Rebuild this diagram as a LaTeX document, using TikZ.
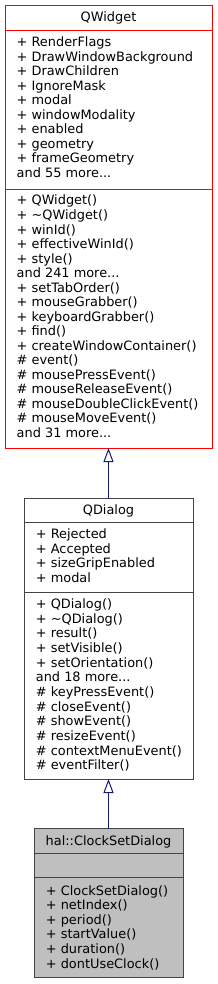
\documentclass[tikz,border=0pt]{standalone}
\usepackage{fontspec}
\setmainfont{DejaVu Sans}
\usetikzlibrary{arrows.meta}
\definecolor{edgeblue}{HTML}{191970}
\definecolor{boxgray}{HTML}{444444}
\definecolor{boxred}{HTML}{FF0000}
\definecolor{fillgray}{HTML}{BFBFBF}
\newcommand{\mymore}{...}
\tikzset{
  umlbox/.style={draw, rectangle, inner sep=0pt, outer sep=0pt, line width=1pt, anchor=north west},
  divider/.style={line width=1pt},
  txt/.style={anchor=base west, inner sep=0pt, font=\fontsize{12.9}{14.5}\selectfont},
  ttl/.style={anchor=base, inner sep=0pt, font=\fontsize{12.9}{14.5}\selectfont},
  inherit/.style={draw=edgeblue, line width=1pt, -{Triangle[open, width=10pt, length=14pt]}}
}
\begin{document}
\begin{tikzpicture}[x=1pt, y=-1pt]
\useasboundingbox (0,0) rectangle (217,984);
% QWidget
\node[umlbox, draw=boxred, fill=white, minimum width=207pt, minimum height=442pt] (qw) at (5,6) {};
\coordinate (qwd1l) at (5,31); \coordinate (qwd1r) at (212,31);
\coordinate (qwd2l) at (5,190); \coordinate (qwd2r) at (212,190);
\draw[divider, boxred] (qwd1l) -- (qwd1r);
\draw[divider, boxred] (qwd2l) -- (qwd2r);
\node[ttl] (qwt) at (108.5,22) {QWidget};
\foreach \t [count=\i from 0] in {+ RenderFlags, + DrawWindowBackground, + DrawChildren, + IgnoreMask, + modal, + windowModality, + enabled, + geometry, + frameGeometry, and 55 more\mymore}
  \node[txt] (qwa\i) at (16.5,46.7+14.5*\i) {\t};
\foreach \t [count=\i from 0] in {+ QWidget(), + \textasciitilde QWidget(), + winId(), + effectiveWinId(), + style(), and 241 more\mymore, + setTabOrder(), + mouseGrabber(), + keyboardGrabber(), + find(), + createWindowContainer(), \# event(), \# mousePressEvent(), \# mouseReleaseEvent(), \# mouseDoubleClickEvent(), \# mouseMoveEvent(), and 31 more\mymore}
  \node[txt] (qwo\i) at (16.5,205+14.5*\i) {\t};
% QDialog
\node[umlbox, draw=boxgray, fill=white, minimum width=169pt, minimum height=280.5pt] (qd) at (24,498.5) {};
\coordinate (qdd1l) at (24,522.7); \coordinate (qdd1r) at (193,522.7);
\coordinate (qdd2l) at (24,592.7); \coordinate (qdd2r) at (193,592.7);
\draw[divider, boxgray] (qdd1l) -- (qdd1r);
\draw[divider, boxgray] (qdd2l) -- (qdd2r);
\node[ttl] (qdt) at (108.5,514.5) {QDialog};
\foreach \t [count=\i from 0] in {+ Rejected, + Accepted, + sizeGripEnabled, + modal}
  \node[txt] (qda\i) at (35.7,538.5+14.65*\i) {\t};
\foreach \t [count=\i from 0] in {+ QDialog(), + \textasciitilde QDialog(), + result(), + setVisible(), + setOrientation(), and 18 more\mymore, \# keyPressEvent(), \# closeEvent(), \# showEvent(), \# resizeEvent(), \# contextMenuEvent(), \# eventFilter()}
  \node[txt] (qdo\i) at (35.7,608.5+14.65*\i) {\t};
% hal::ClockSetDialog
\node[umlbox, draw=boxgray, fill=fillgray, minimum width=149pt, minimum height=149.2pt] (cs) at (34,828.5) {};
\coordinate (csd1l) at (34,853.5); \coordinate (csd1r) at (183,853.5);
\coordinate (csd2l) at (34,877.5); \coordinate (csd2r) at (183,877.5);
\draw[divider, boxgray] (csd1l) -- (csd1r);
\draw[divider, boxgray] (csd2l) -- (csd2r);
\node[ttl] (cst) at (108.5,845) {hal::ClockSetDialog};
\foreach \t [count=\i from 0] in {+ ClockSetDialog(), + netIndex(), + period(), + startValue(), + duration(), + dontUseClock()}
  \node[txt] (cso\i) at (45.7,895+14.65*\i) {\t};
% inheritance
\draw[inherit] (qd.north) -- (qw.south);
\draw[inherit] (cs.north) -- (qd.south);
\end{tikzpicture}
\end{document}
